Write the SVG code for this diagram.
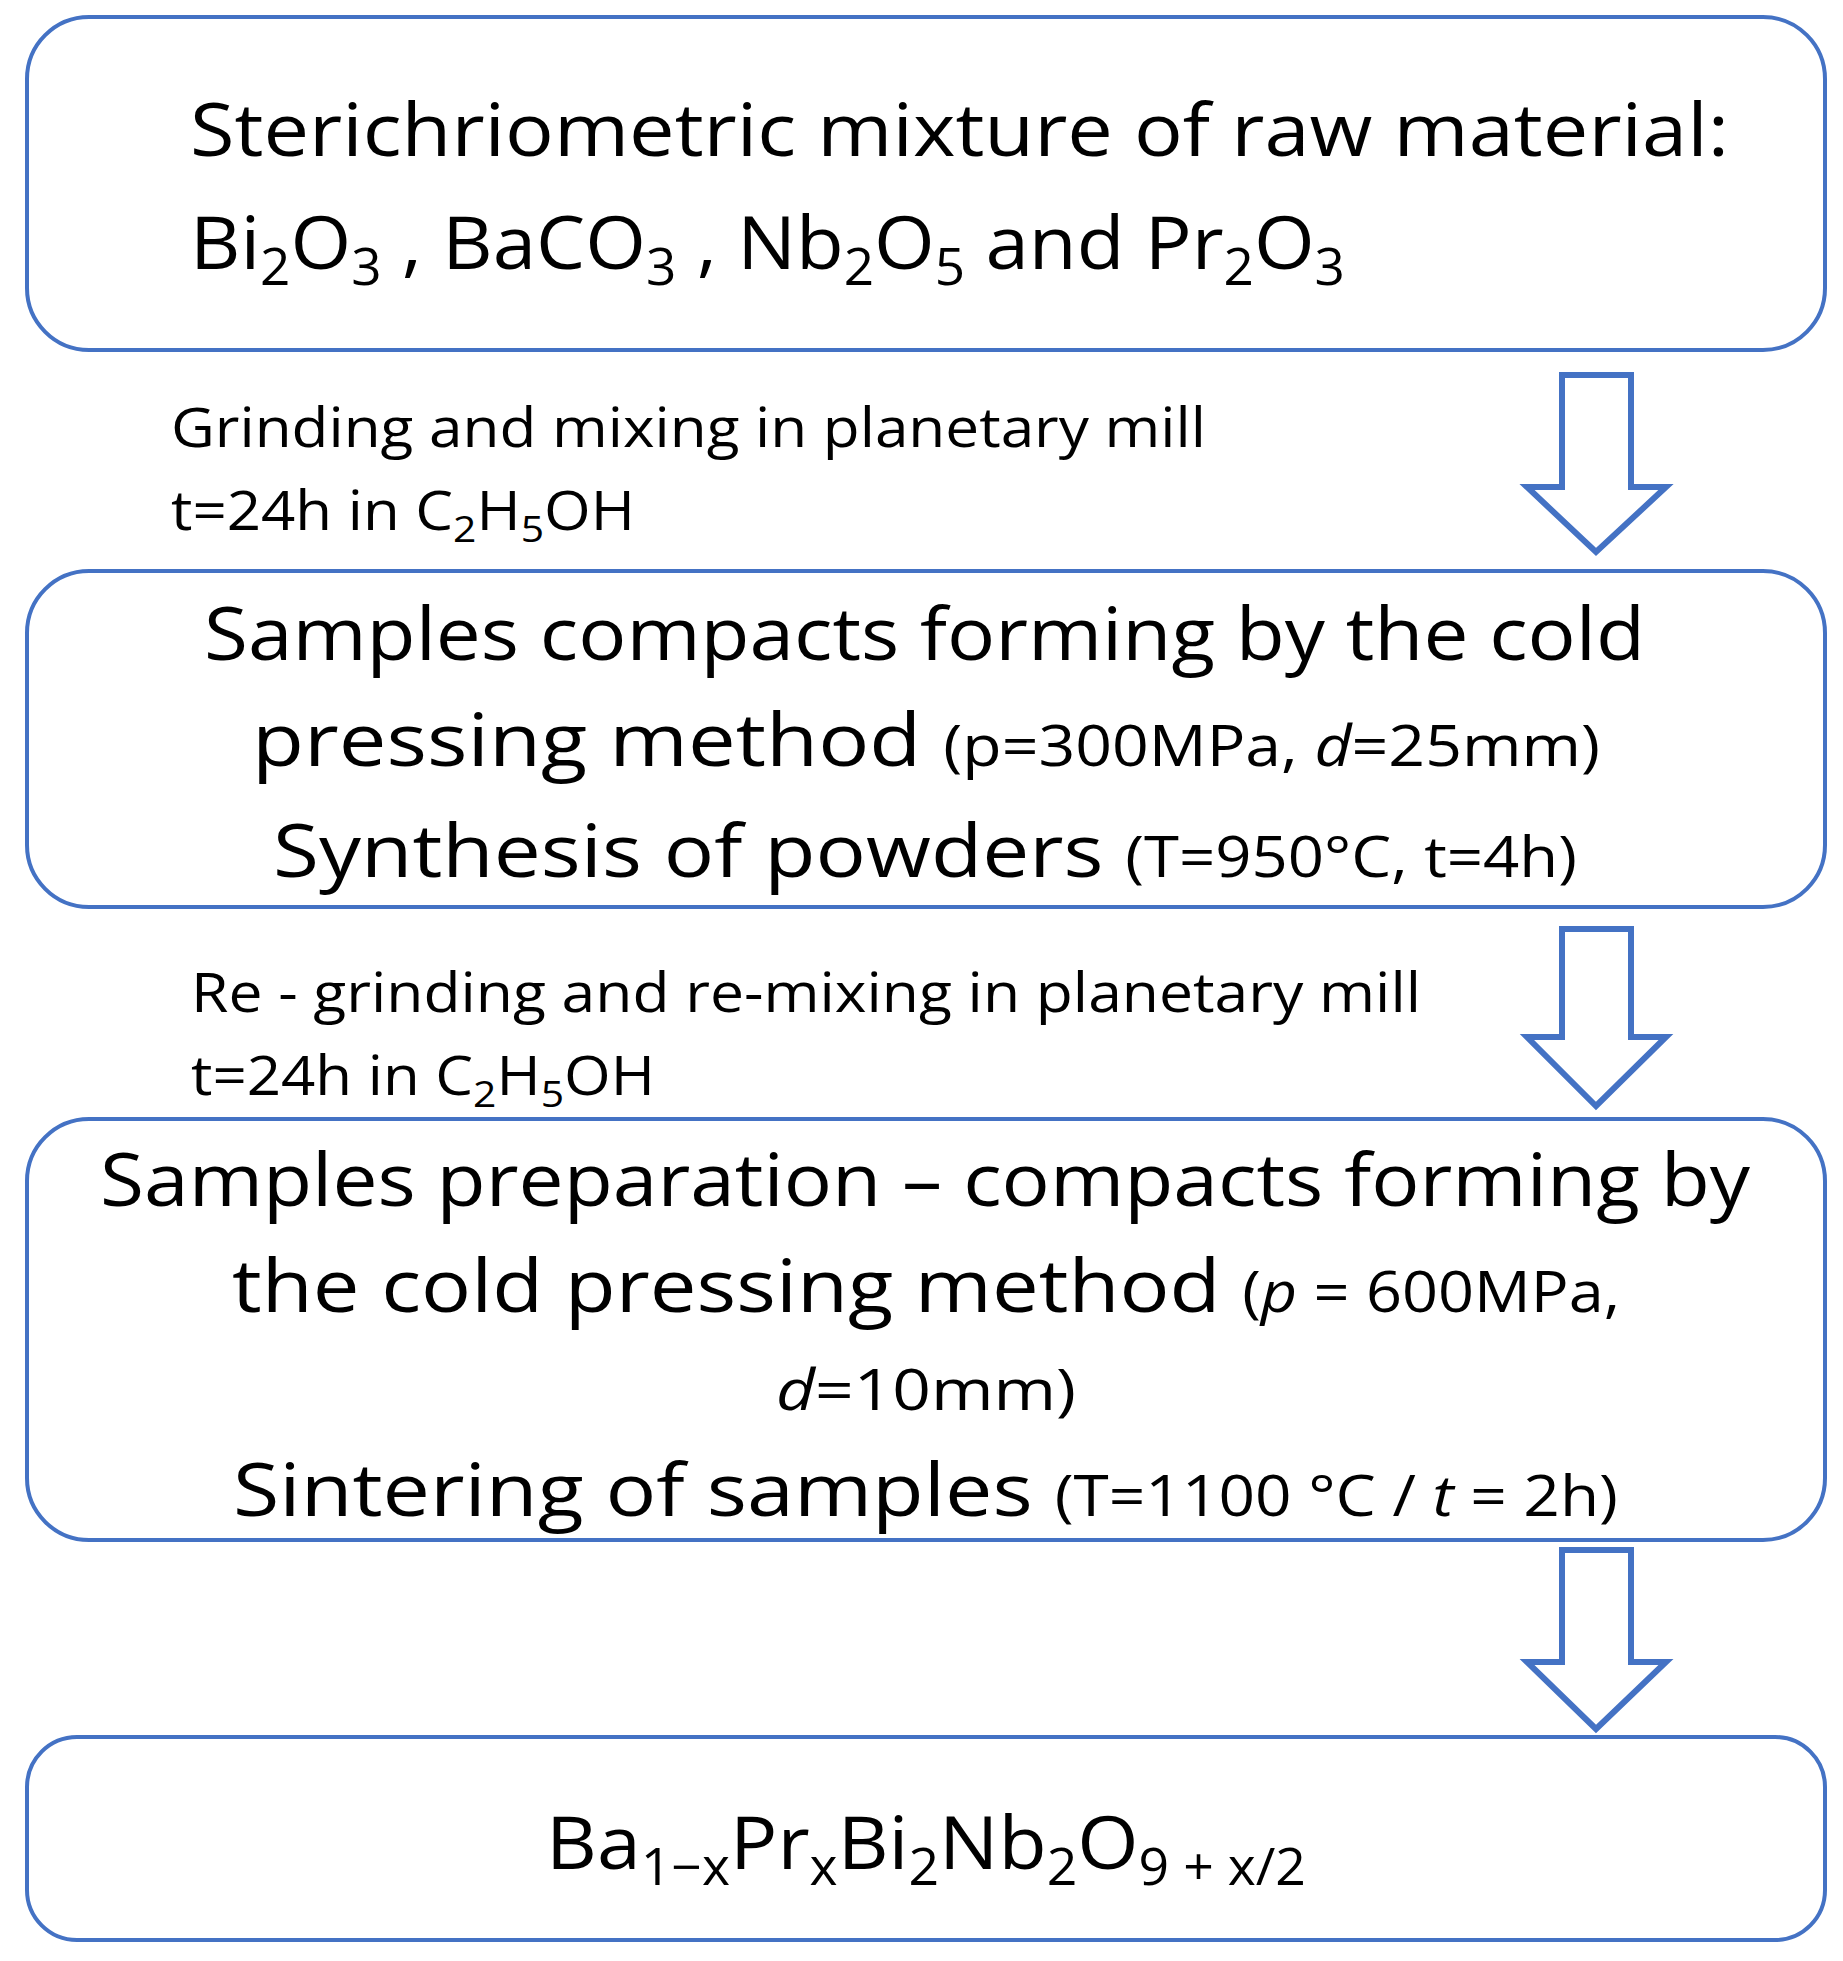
<svg xmlns="http://www.w3.org/2000/svg" width="1843" height="1961" viewBox="0 0 1843 1961">
<style>
.box{fill:#fff;stroke:#4472C4;stroke-width:4}
.arr{fill:#fff;stroke:#4472C4;stroke-width:6;stroke-linejoin:miter}
text{font-family:"Open Sans","Liberation Sans",sans-serif;fill:#000}
.big{font-size:74px}
.lab{font-size:54px}
.sm{font-size:56px}
.sub{font-size:0.68em}
</style>
<rect width="1843" height="1961" fill="#fff"/>
<g id="connectors">
<path class="arr" d="M1562,375 H1631 V487 H1666 L1596,552 L1527,487 H1562 Z"/>
<path class="arr" d="M1562,929 H1631 V1037 H1666 L1596,1106 L1527,1037 H1562 Z"/>
<path class="arr" d="M1562,1550 H1631 V1662 H1666 L1596,1729 L1527,1662 H1562 Z"/>
</g>
<g id="node1">
<rect class="box" x="27" y="17" width="1798" height="333" rx="62"/>
<text class="big" x="190" y="156" textLength="1539" lengthAdjust="spacingAndGlyphs">Sterichriometric mixture of raw material:</text>
<text class="big" x="190" y="269" textLength="1155" lengthAdjust="spacingAndGlyphs">Bi<tspan class="sub" dy="16">2</tspan><tspan dy="-16">O</tspan><tspan class="sub" dy="16">3</tspan><tspan dy="-16"> , BaCO</tspan><tspan class="sub" dy="16">3</tspan><tspan dy="-16"> , Nb</tspan><tspan class="sub" dy="16">2</tspan><tspan dy="-16">O</tspan><tspan class="sub" dy="16">5</tspan><tspan dy="-16"> and Pr</tspan><tspan class="sub" dy="16">2</tspan><tspan dy="-16">O</tspan><tspan class="sub" dy="16">3</tspan></text>
</g>
<g id="label1">
<text class="lab" x="171" y="447" textLength="1035" lengthAdjust="spacingAndGlyphs">Grinding and mixing in planetary mill</text>
<text class="lab" x="171" y="530" textLength="464" lengthAdjust="spacingAndGlyphs">t=24h in C<tspan class="sub" dy="12">2</tspan><tspan dy="-12">H</tspan><tspan class="sub" dy="12">5</tspan><tspan dy="-12">OH</tspan></text>
</g>
<g id="node2">
<rect class="box" x="27" y="571" width="1798" height="336" rx="62"/>
<text class="big" x="204" y="660" textLength="1441" lengthAdjust="spacingAndGlyphs">Samples compacts forming by the cold</text>
<text class="big" x="252" y="766" textLength="1348" lengthAdjust="spacingAndGlyphs">pressing method <tspan class="sm">(p=300MPa, <tspan font-style="italic">d</tspan>=25mm)</tspan></text>
<text class="big" x="273" y="877" textLength="1304" lengthAdjust="spacingAndGlyphs">Synthesis of powders <tspan class="sm">(T=950°C, t=4h)</tspan></text>
</g>
<g id="label2">
<text class="lab" x="191" y="1012" textLength="1230" lengthAdjust="spacingAndGlyphs">Re - grinding and re-mixing in planetary mill</text>
<text class="lab" x="191" y="1095" textLength="464" lengthAdjust="spacingAndGlyphs">t=24h in C<tspan class="sub" dy="12">2</tspan><tspan dy="-12">H</tspan><tspan class="sub" dy="12">5</tspan><tspan dy="-12">OH</tspan></text>
</g>
<g id="node3">
<rect class="box" x="27" y="1119" width="1798" height="421" rx="62"/>
<text class="big" x="100" y="1206" textLength="1650" lengthAdjust="spacingAndGlyphs">Samples preparation – compacts forming by</text>
<text class="big" x="232" y="1312" textLength="1388" lengthAdjust="spacingAndGlyphs">the cold pressing method <tspan class="sm">(<tspan font-style="italic">p</tspan> = 600MPa,</tspan></text>
<text class="sm" x="776" y="1410" textLength="300" lengthAdjust="spacingAndGlyphs"><tspan font-style="italic">d</tspan>=10mm)</text>
<text class="big" x="233" y="1516" textLength="1385" lengthAdjust="spacingAndGlyphs">Sintering of samples <tspan class="sm">(T=1100 °C / <tspan font-style="italic">t</tspan> = 2h)</tspan></text>
</g>
<g id="node4">
<rect class="box" x="27" y="1737" width="1798" height="203" rx="50"/>
<text class="big" x="546" y="1869" textLength="760" lengthAdjust="spacingAndGlyphs">Ba<tspan class="sub" dy="16">1−x</tspan><tspan dy="-16">Pr</tspan><tspan class="sub" dy="16">x</tspan><tspan dy="-16">Bi</tspan><tspan class="sub" dy="16">2</tspan><tspan dy="-16">Nb</tspan><tspan class="sub" dy="16">2</tspan><tspan dy="-16">O</tspan><tspan class="sub" dy="16">9 + x/2</tspan></text>
</g>
</svg>
